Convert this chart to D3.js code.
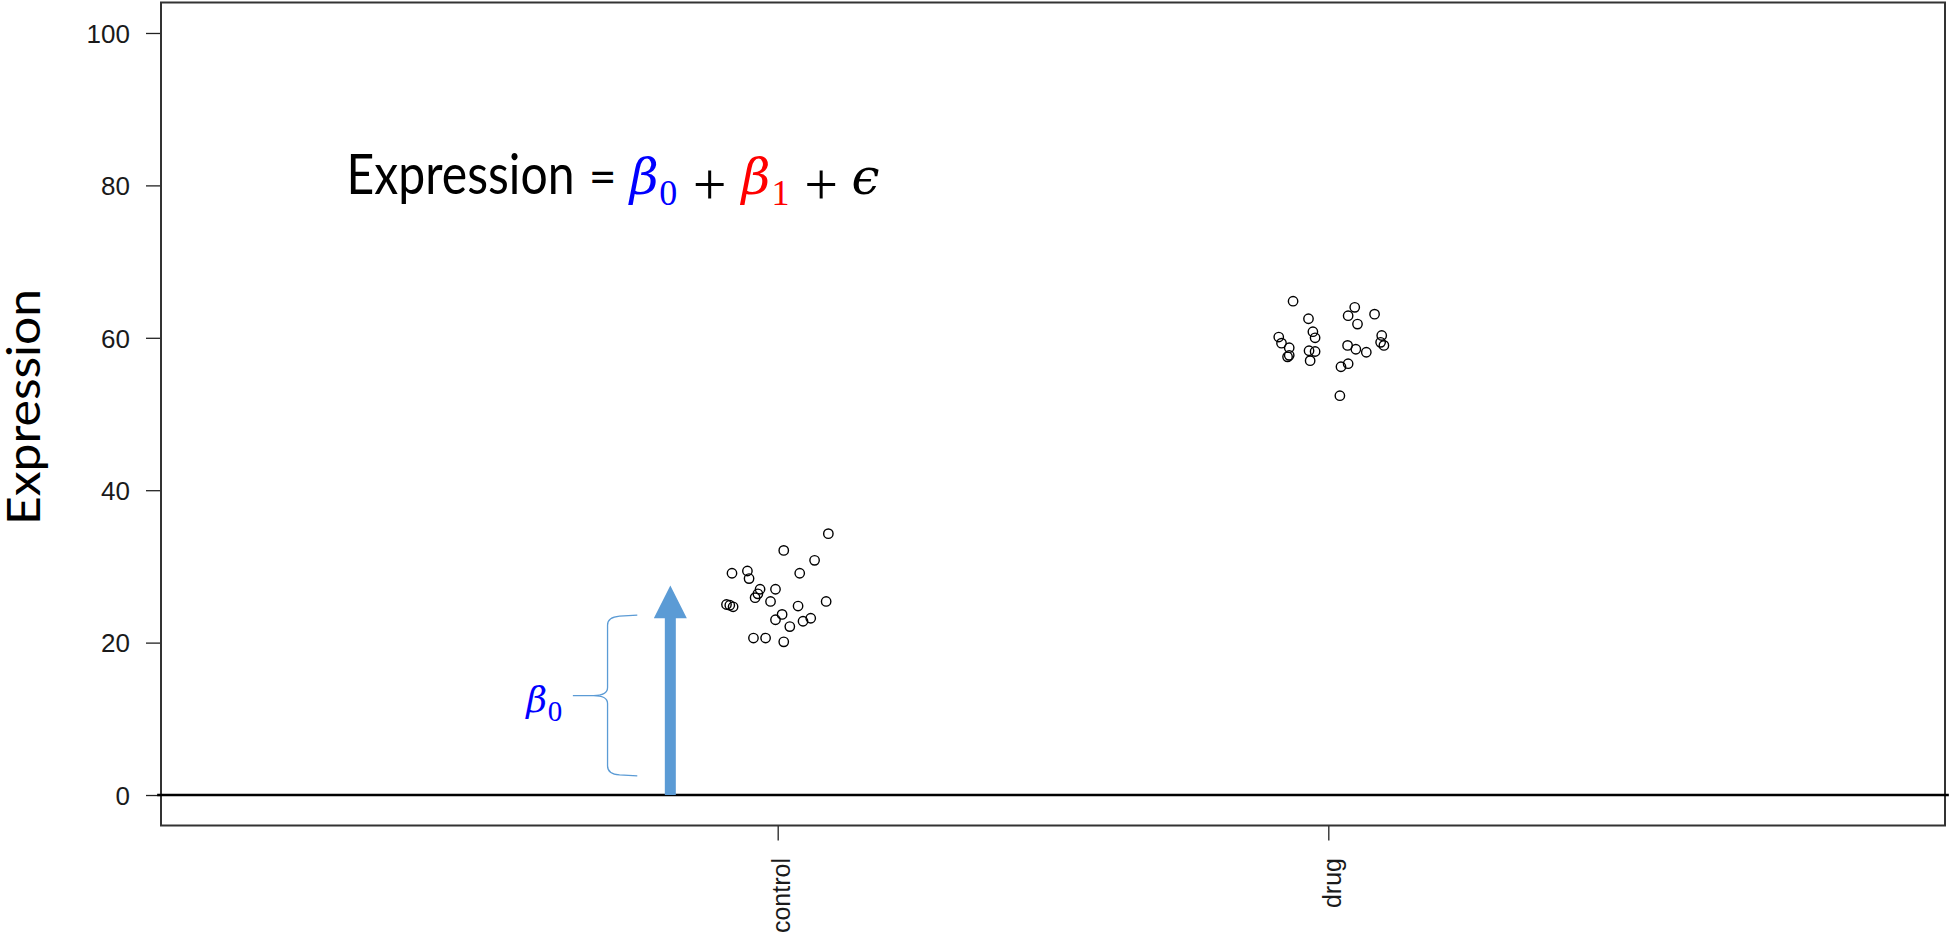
<!DOCTYPE html>
<html>
<head>
<meta charset="utf-8">
<script src="https://cdn.jsdelivr.net/npm/d3@7"></script>
<style>
  html, body { margin: 0; padding: 0; background: #ffffff; }
  svg { display: block; }
</style>
</head>
<body>
<svg id="chart" width="1951" height="939"></svg>
<script>
// Groups on the x axis and their positions
const categories = ["control", "drug"];
const categoryPos = [1, 2];
const yTicks = [0, 20, 40, 60, 80, 100];

// Jittered observations, control group
const controlX = [1.092, 1.011, 1.067, 0.917, 0.945, 0.948, 1.040, 0.968, 0.996, 0.959, 0.964,
                  0.987, 0.907, 0.913, 0.919, 1.037, 1.088, 1.008, 0.996, 1.022, 1.046, 1.060,
                  0.956, 0.978, 1.011];
const controlY = [34.3, 32.1, 30.8, 29.1, 29.4, 28.4, 29.1, 27.0, 27.0, 25.9, 26.4,
                  25.4, 25.0, 24.9, 24.7, 24.8, 25.4, 23.7, 23.0, 22.1, 22.8, 23.2,
                  20.6, 20.6, 20.1];

// Jittered observations, drug group
const drugX = [1.936, 2.048, 2.036, 2.084, 1.964, 2.053, 1.972, 1.976, 1.910, 1.915, 1.929,
               1.926, 1.929, 1.965, 1.976, 1.967, 2.035, 2.050, 2.069, 2.097, 2.095, 2.101,
               2.023, 2.036, 2.021];
const drugY = [64.8, 64.0, 62.9, 63.1, 62.5, 61.8, 60.8, 60.0, 60.1, 59.3, 58.7,
               57.5, 57.7, 58.3, 58.2, 57.0, 59.0, 58.5, 58.1, 60.3, 59.4, 59.0,
               56.2, 56.6, 52.4];

// Intercept annotation (arrow and brace) in data units
const arrowX = 0.805, arrowTop = 27.5, arrowHeadBase = 23.2;
const braceX = [0.628, 0.691, 0.745];   // tip, spine, arm ends
const braceY = [2.5, 23.6];

const svg = d3.select("#chart");
const x = d3.scaleLinear().domain([-0.12, 3.12]).range([161, 1945]);
const y = d3.scaleLinear().domain([-4, 104]).range([825.5, 2.5]);

const axisFont = "'Liberation Sans', Arial, sans-serif";

// y axis
const gy = svg.append("g").attr("transform", `translate(${x(-0.12)},0)`)
  .call(d3.axisLeft(y).tickValues(yTicks).tickSize(15).tickPadding(16));
gy.select(".domain").remove();
gy.selectAll(".tick line").attr("stroke", "#222").attr("stroke-width", 1.3);
gy.selectAll(".tick text").attr("font-family", axisFont).attr("font-size", 26)
  .attr("fill", "#1a1a1a").attr("dy", "0.36em");

// x axis with rotated group labels
const gx = svg.append("g").attr("transform", `translate(0,${y(-4)})`)
  .call(d3.axisBottom(x).tickValues(categoryPos).tickSize(15)
    .tickFormat((d, i) => categories[i]));
gx.select(".domain").remove();
gx.selectAll(".tick line").attr("stroke", "#222").attr("stroke-width", 1.3);
gx.selectAll(".tick text").attr("font-family", axisFont).attr("font-size", 25)
  .attr("fill", "#1a1a1a").attr("transform", "rotate(-90)")
  .attr("text-anchor", "end").attr("x", -32.5).attr("y", 11.7).attr("dy", 0);

// plot frame
svg.append("rect").attr("x", x(-0.12)).attr("y", y(104))
  .attr("width", x(3.12) - x(-0.12)).attr("height", y(-4) - y(104))
  .attr("fill", "none").attr("stroke", "#333").attr("stroke-width", 2);

// horizontal reference line at zero
svg.append("line").attr("x1", x(-0.127)).attr("x2", x(3.127))
  .attr("y1", y(0)).attr("y2", y(0)).attr("stroke", "#000").attr("stroke-width", 2.5);

// points
const pts = controlX.map((v, i) => [v, controlY[i]])
  .concat(drugX.map((v, i) => [v, drugY[i]]));
svg.append("g").selectAll("circle").data(pts).join("circle")
  .attr("cx", d => x(d[0])).attr("cy", d => y(d[1])).attr("r", 4.7)
  .attr("fill", "none").attr("stroke", "#000").attr("stroke-width", 1.4);

// y axis title
svg.append("text").attr("transform", `translate(40,407) rotate(-90)`)
  .attr("text-anchor", "middle").attr("font-family", "Lato, sans-serif")
  .attr("font-size", 46).attr("textLength", 236).attr("lengthAdjust", "spacingAndGlyphs")
  .attr("fill", "#000").text("Expression");

// intercept arrow
const ax = x(arrowX), shaftW = 5.5, headW = 16.5;
svg.append("path")
  .attr("d", `M${ax - shaftW},${y(0)} L${ax - shaftW},${y(arrowHeadBase)} L${ax - headW},${y(arrowHeadBase)}
              L${ax},${y(arrowTop)} L${ax + headW},${y(arrowHeadBase)} L${ax + shaftW},${y(arrowHeadBase)}
              L${ax + shaftW},${y(0)} Z`)
  .attr("fill", "#5B9BD5");

// curly brace next to the arrow
const bt = x(braceX[0]), bs = x(braceX[1]), be = x(braceX[2]);
const by0 = y(braceY[1]), by1 = y(braceY[0]), bm = (by0 + by1) / 2;
svg.append("path")
  .attr("d", `M${be},${by0} L${bs + 12},${by0 + 1} Q${bs},${by0 + 2} ${bs},${by0 + 10}
              L${bs},${bm - 8} Q${bs},${bm} ${bs - 14},${bm} L${bt},${bm}
              M${bs - 14},${bm} Q${bs},${bm} ${bs},${bm + 8}
              L${bs},${by1 - 10} Q${bs},${by1 - 2} ${bs + 12},${by1 - 1} L${be},${by1}`)
  .attr("fill", "none").attr("stroke", "#5B9BD5").attr("stroke-width", 1.3);

// brace label
const lab = svg.append("g").attr("transform", `translate(${x(0.578)},${y(10.9)})`);
lab.append("text").attr("x", -19).attr("y", 0).attr("font-family", "'DejaVu Serif', serif")
  .attr("font-style", "italic").attr("font-size", 36).attr("fill", "#0000FF").text("β");
lab.append("text").attr("x", 2.5).attr("y", 9.5).attr("font-family", "'Liberation Serif', serif")
  .attr("font-size", 29).attr("fill", "#0000FF").text("0");

// model equation
const eq = svg.append("g").attr("transform", `translate(${x(0.217)},${y(78.9)})`);
eq.append("text").attr("x", 0).attr("y", 0).attr("font-family", "Lato, sans-serif")
  .attr("font-size", 57).attr("textLength", 228).attr("lengthAdjust", "spacingAndGlyphs")
  .attr("fill", "#000").text("Expression");
eq.append("text").attr("x", 256).attr("y", 0).attr("text-anchor", "middle")
  .attr("font-family", "Lato, sans-serif").attr("font-size", 48).attr("fill", "#000").text("=");
const greek = (txt, px, col) => eq.append("text").attr("x", px).attr("y", 0)
  .attr("font-family", "'DejaVu Serif', serif").attr("font-style", "italic")
  .attr("font-size", 50).attr("fill", col).text(txt);
const sub = (txt, px, col) => eq.append("text").attr("x", px).attr("y", 11.5)
  .attr("text-anchor", "middle")
  .attr("font-family", "'Liberation Serif', serif").attr("font-size", 36).attr("fill", col).text(txt);
const plus = (px) => eq.append("text").attr("x", px).attr("y", 10.5).attr("text-anchor", "middle")
  .attr("font-family", "'Liberation Serif', serif").attr("font-size", 60).attr("fill", "#000").text("+");
greek("β", 283.3, "#0000FF");
sub("0", 321.7, "#0000FF");
plus(363);
greek("β", 395, "#FF0000");
sub("1", 434, "#FF0000");
plus(474.7);
greek("ϵ", 505, "#000");
</script>
</body>
</html>
